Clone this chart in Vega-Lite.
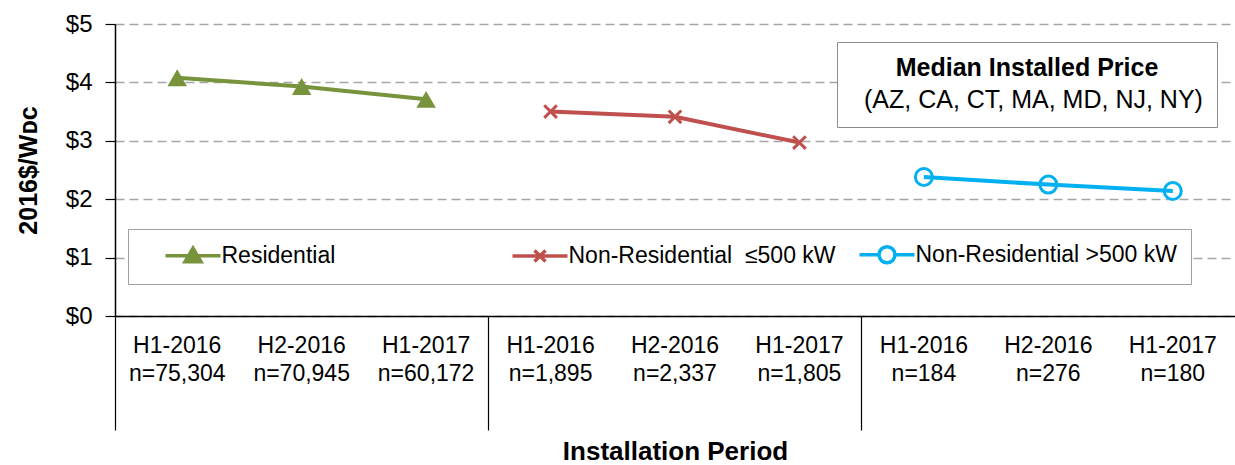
{
  "$schema": "https://vega.github.io/schema/vega-lite/v6.json",
  "autosize": {"type": "none"},
  "width": 1120,
  "height": 292,
  "padding": {"left": 115, "top": 24, "right": 0, "bottom": 149},
  "background": "white",
  "config": {
    "view": {"stroke": null},
    "font": "Liberation Sans",
    "axis": {"labelFont": "Liberation Sans", "titleFont": "Liberation Sans", "labelColor": "black", "titleColor": "black"},
    "legend": {"labelFont": "Liberation Sans", "titleFont": "Liberation Sans"}
  },
  "datasets": {
    "prices": [
      {"series": "Residential", "period": "H1-2016|n=75,304", "price": 4.08},
      {"series": "Residential", "period": "H2-2016|n=70,945", "price": 3.93},
      {"series": "Residential", "period": "H1-2017|n=60,172", "price": 3.71},
      {"series": "Non-Residential\u00a0 ≤500 kW", "period": "H1-2016|n=1,895", "price": 3.50},
      {"series": "Non-Residential\u00a0 ≤500 kW", "period": "H2-2016|n=2,337", "price": 3.41},
      {"series": "Non-Residential\u00a0 ≤500 kW", "period": "H1-2017|n=1,805", "price": 2.97},
      {"series": "Non-Residential >500 kW", "period": "H1-2016|n=184", "price": 2.38},
      {"series": "Non-Residential >500 kW", "period": "H2-2016|n=276", "price": 2.25},
      {"series": "Non-Residential >500 kW", "period": "H1-2017|n=180", "price": 2.14}
    ],
    "note": [
      {"note": "(AZ, CA, CT, MA, MD, NJ, NY)"}
    ]
  },
  "layer": [
    {
      "data": {"name": "prices"},
      "mark": {"type": "line", "strokeWidth": 4},
      "encoding": {
        "x": {
          "field": "period",
          "type": "ordinal",
          "scale": {
            "type": "band",
            "paddingInner": 0,
            "paddingOuter": 0,
            "domain": ["H1-2016|n=75,304", "H2-2016|n=70,945", "H1-2017|n=60,172", "H1-2016|n=1,895", "H2-2016|n=2,337", "H1-2017|n=1,805", "H1-2016|n=184", "H2-2016|n=276", "H1-2017|n=180"]
          },
          "axis": {
            "title": "Installation Period",
            "titleFontSize": 26,
            "titleFontWeight": "bold",
            "titlePadding": 8,
            "labelAngle": 0,
            "labelExpr": "split(datum.label, '|')",
            "labelFontSize": 23,
            "labelLineHeight": 28,
            "labelBaseline": "top",
            "labelPadding": -96,
            "labelOverlap": false,
            "labelLimit": 300,
            "bandPosition": 0,
            "ticks": true,
            "tickSize": 114,
            "tickColor": "black",
            "tickWidth": 1.2,
            "tickOpacity": {"condition": {"test": "indexof(datum.value, 'H1-2016') === 0", "value": 1}, "value": 0},
            "domainColor": "black",
            "domainWidth": 1.5,
            "grid": false
          }
        },
        "y": {
          "field": "price",
          "type": "quantitative",
          "scale": {"domain": [0, 5], "nice": false, "zero": true},
          "axis": {
            "values": [0, 1, 2, 3, 4, 5],
            "labelExpr": "'$' + datum.value",
            "labelFontSize": 24,
            "labelPadding": 13,
            "tickSize": 10,
            "tickColor": "black",
            "tickWidth": 1.2,
            "domainColor": "black",
            "domainWidth": 1.5,
            "grid": true,
            "gridColor": "#a6a6a6",
            "gridDash": [9, 5],
            "gridWidth": 1.3,
            "title": "2016$/Wᴅᴄ",
            "titleFontSize": 25,
            "titleFontWeight": "bold",
            "titlePadding": 24
          }
        },
        "color": {
          "field": "series",
          "type": "nominal",
          "scale": {
            "domain": ["Residential", "Non-Residential\u00a0 ≤500 kW", "Non-Residential >500 kW"],
            "range": ["#77933C", "#C0504D", "#00B0F0"]
          },
          "legend": {
            "title": null,
            "orient": "none",
            "legendX": 13,
            "legendY": 205,
            "direction": "horizontal",
            "columns": 3,
            "gridAlign": "all",
            "padding": 14,
            "columnPadding": 0,
            "strokeColor": "#a0a0a0",
            "fillColor": "white",
            "labelFontSize": 23,
            "labelColor": "black",
            "labelLimit": 400,
            "symbolSize": 100,
            "symbolStrokeWidth": 3.5,
            "symbolOffset": 39.5,
            "labelOffset": 17,
            "encode": {
              "symbols": {
                "update": {
                  "shape": {"signal": "datum.value === 'Residential' ? 'M-5.5,0H5.5M0,-1.5L1.6,1.2L-1.6,1.2Z' : (indexof(datum.value, '>') >= 0 ? 'M-5.5,0H-1.6M1.6,0H5.5M-1.6,0A1.6,1.6,0,1,0,1.6,0A1.6,1.6,0,1,0,-1.6,0' : 'M-5.5,0H5.5M-1.1,-1.1L1.1,1.1M-1.1,1.1L1.1,-1.1')"},
                  "fill": {"signal": "datum.value === 'Residential' ? '#77933C' : 'transparent'"},
                  "stroke": {"signal": "datum.value === 'Residential' ? '#77933C' : (indexof(datum.value, '>') >= 0 ? '#00B0F0' : '#C0504D')"},
                  "strokeWidth": {"value": 3.5},
                  "opacity": {"value": 1}
                }
              }
            }
          }
        }
      }
    },
    {
      "data": {"name": "prices"},
      "transform": [{"filter": "datum.series === 'Residential'"}],
      "mark": {"type": "point", "shape": "triangle-up", "filled": true, "color": "#77933C", "size": 380, "opacity": 1},
      "encoding": {
        "x": {"field": "period", "type": "ordinal"},
        "y": {"field": "price", "type": "quantitative"}
      }
    },
    {
      "data": {"name": "prices"},
      "transform": [{"filter": "indexof(datum.series, '≤') >= 0"}],
      "mark": {"type": "point", "shape": "M-1,-1L1,1M-1,1L1,-1", "filled": false, "color": "#C0504D", "strokeWidth": 3, "size": 160, "opacity": 1},
      "encoding": {
        "x": {"field": "period", "type": "ordinal"},
        "y": {"field": "price", "type": "quantitative"}
      }
    },
    {
      "data": {"name": "prices"},
      "transform": [{"filter": "indexof(datum.series, '>') >= 0"}],
      "mark": {"type": "point", "shape": "circle", "filled": false, "color": "#00B0F0", "strokeWidth": 3, "size": 289, "opacity": 1},
      "encoding": {
        "x": {"field": "period", "type": "ordinal"},
        "y": {"field": "price", "type": "quantitative"}
      }
    },
    {
      "data": {"name": "note"},
      "mark": {"type": "point", "opacity": 0},
      "encoding": {
        "shape": {
          "field": "note",
          "type": "nominal",
          "legend": {
            "orient": "none",
            "legendX": 722,
            "legendY": 18,
            "title": "Median Installed Price",
            "titleFontSize": 25,
            "titleFontWeight": "bold",
            "titleColor": "black",
            "titleAnchor": "middle",
            "titlePadding": 6,
            "titleLimit": 500,
            "labelFontSize": 25,
            "labelColor": "black",
            "labelLimit": 500,
            "labelOffset": -12,
            "symbolSize": 0,
            "symbolOpacity": 0,
            "symbolStrokeWidth": 0,
            "padding": 14,
            "strokeColor": "#8c8c8c",
            "fillColor": "white"
          }
        }
      }
    }
  ]
}
